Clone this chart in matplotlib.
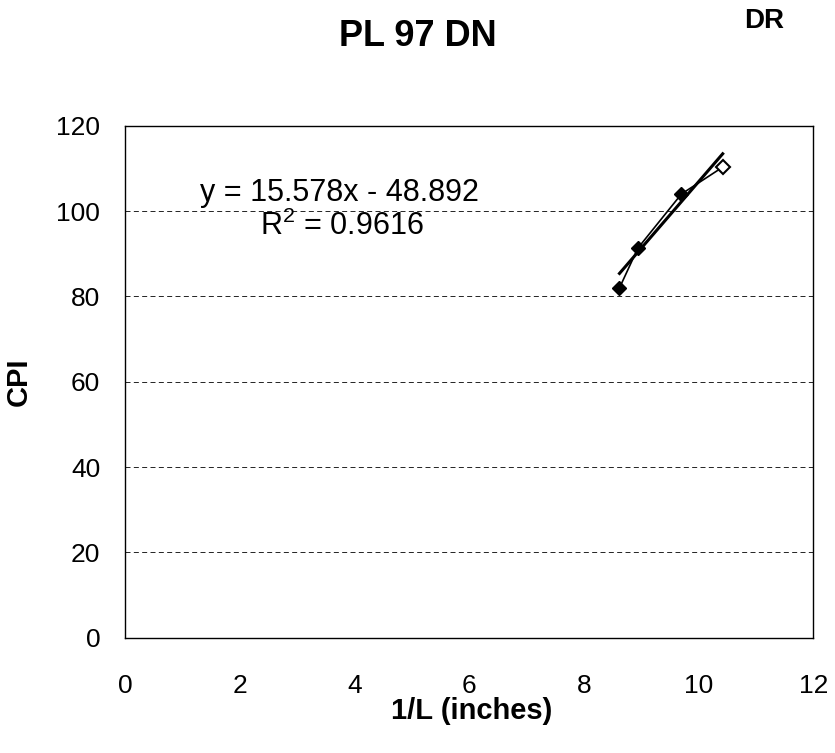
import numpy as np
import matplotlib.pyplot as plt

plt.rcParams['font.family'] = ['Liberation Sans', 'DejaVu Sans']

inv_L = [8.62, 8.94, 9.70, 10.42]
cpi = [82.0, 91.3, 104.0, 110.3]

slope = 15.578
intercept = -48.892
r2 = 0.9616

fig = plt.figure(figsize=(8.35, 7.53), dpi=100)
ax = fig.add_axes([0.150, 0.153, 0.824, 0.680])

# data line and markers
ax.plot(inv_L, cpi, color='black', lw=1.2, zorder=3)
ax.plot(inv_L[:-1], cpi[:-1], 'D', color='black', ms=7, zorder=4)
ax.plot(inv_L[-1:], cpi[-1:], 'D', mfc='white', mec='black', mew=1.5, ms=7, zorder=4)

# linear trend line
xt = np.array([inv_L[0], inv_L[-1]])
ax.plot(xt, slope * xt + intercept, color='black', lw=2.2, zorder=2)

ax.text(3.73, 104.3, 'y = 15.578x - 48.892', fontsize=22, ha='center', va='center')
ax.text(3.77, 96.5, '$\\mathregular{R^2}$ = 0.9616', fontsize=22, ha='center', va='center')

ax.set_xlim(0, 12)
ax.set_ylim(0, 120)
ax.set_xticks(range(0, 13, 2))
ax.set_yticks(range(0, 121, 20))
ax.tick_params(labelsize=19, length=0)
ax.tick_params(axis='x', pad=26)
ax.tick_params(axis='y', pad=18)
ax.yaxis.grid(True, color='black', ls=(0, (6, 4)), lw=0.6)
for s in ax.spines.values():
    s.set_linewidth(1.0)

ax.set_xlabel('1/L (inches)', fontsize=21, fontweight='bold')
ax.xaxis.set_label_coords(0.504, -0.115)
ax.set_ylabel('CPI', fontsize=21, fontweight='bold')
ax.yaxis.set_label_coords(-0.134, 0.5)

fig.text(418 / 835, 1 - 36 / 753, 'PL 97 DN', fontsize=26, fontweight='bold', ha='center', va='center')
fig.text(764 / 835, 1 - 21 / 753, 'DR', fontsize=20, fontweight='bold', ha='center', va='center')

fig.savefig('out.png', dpi=100)
